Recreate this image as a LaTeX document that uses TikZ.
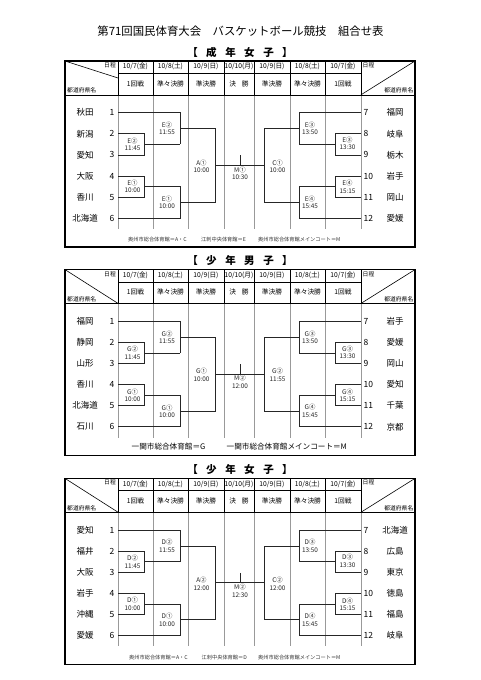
\documentclass[tikz,border=0pt]{standalone}
\usepackage{fontspec}
\setmainfont{Noto Sans CJK JP}
\tikzset{
  x=1pt, y=-1pt,
  outer/.style={line width=1.6pt, black},
  hdr/.style={line width=0.6pt, black},
  gridbody/.style={line width=0.5pt, black!40},
  br/.style={line width=0.8pt, black!85},
  lbl/.style={font=\fontsize{6.4}{7.4}\selectfont, align=center, inner sep=0pt, text=black!85},
  team/.style={font=\fontsize{8.5}{10}\selectfont, inner sep=0pt},
  hd/.style={font=\fontsize{6.7}{7}\selectfont, inner sep=0pt},
  corner/.style={font=\fontsize{5.8}{6}\selectfont, inner sep=0pt},
  foot/.style={font=\fontsize{5.2}{6}\selectfont, inner sep=0pt, anchor=west, text=black!80},
  footbig/.style={font=\fontsize{7.6}{8}\selectfont, inner sep=0pt, anchor=west},
  sub/.style={font=\fontsize{10.5}{12}\selectfont\bfseries, inner sep=0pt},
}
% #1 top y, #2 prefix, #3 end y of left diagonal
\newcommand{\drawtbl}[3]{%
\begin{scope}[shift={(0,#1)}]
  \foreach \x in {118,153,188,224,254,290,325,361} {
    \draw[gridbody] (\x,33.8) -- (\x,168);
    \draw[hdr] (\x,0) -- (\x,33.8);
  }
  \draw[hdr] (118,12.3) -- (361,12.3);
  \draw[hdr] (65,33.8) -- (415,33.8);
  \draw[hdr] (65,0) -- (118,#3);
  \draw[hdr] (415,0) -- (361,33.8);
  \draw[outer] (65,0) rectangle (415,186);
  \node[corner,anchor=north east] (#2dl) at (116,1.6) {日程};
  \node[corner,anchor=south west] (#2pl) at (67,32.5) {都道府県名};
  \node[corner,anchor=north west] (#2dr) at (362.5,1.6) {日程};
  \node[corner,anchor=south east] (#2pr) at (413.5,32.5) {都道府県名};
  \foreach \cx/\dt/\rd [count=\n] in {135.5/{10/7(金)}/1回戦, 170.5/{10/8(土)}/準々決勝, 206/{10/9(日)}/準決勝, 239/{10/10(月)}/{決\hspace{6pt}勝}, 272/{10/9(日)}/準決勝, 307.5/{10/8(土)}/準々決勝, 343/{10/7(金)}/1回戦} {
    \node[hd] (#2date\n) at (\cx,5.6) {\dt};
    \node[hd] (#2rnd\n) at (\cx,22.5) {\rd};
  }
  % left bracket
  \draw[br] (118,51.7) -- (180,51.7) -- (180,83.35);
  \draw[br] (118,72.8) -- (144,72.8) -- (144,93.9) -- (118,93.9);
  \draw[br] (144,83.35) -- (180,83.35);
  \draw[br] (180,67.525) -- (215,67.525) -- (215,141.375) -- (180,141.375);
  \draw[br] (118,115) -- (144,115) -- (144,136.1) -- (118,136.1);
  \draw[br] (144,125.55) -- (180,125.55) -- (180,157.2) -- (118,157.2);
  % final
  \draw[br] (215,104.45) -- (264,104.45);
  \draw[br] (240,94.45) -- (240,104.45);
  % right bracket
  \draw[br] (361,51.7) -- (299,51.7) -- (299,83.35);
  \draw[br] (361,72.8) -- (335,72.8) -- (335,93.9) -- (361,93.9);
  \draw[br] (335,83.35) -- (299,83.35);
  \draw[br] (299,67.525) -- (264,67.525) -- (264,141.375) -- (299,141.375);
  \draw[br] (361,115) -- (335,115) -- (335,136.1) -- (361,136.1);
  \draw[br] (335,125.55) -- (299,125.55) -- (299,157.2) -- (361,157.2);
\end{scope}}
% #1 top, #2 prefix, #3 left teams, #4 right teams
\newcommand{\teams}[4]{%
\begin{scope}[shift={(0,#1)}]
  \foreach \nm [count=\i] in {#3} {
    \pgfmathsetmacro\yy{51.7+21.1*(\i-1)}
    \node[team] (#2l\i) at (85,\yy) {\nm};
    \node[team,anchor=east] (#2ln\i) at (114.5,\yy) {\i};
  }
  \foreach \nm [count=\i] in {#4} {
    \pgfmathsetmacro\yy{51.7+21.1*(\i-1)}
    \pgfmathtruncatemacro\num{\i+6}
    \node[team] (#2r\i) at (395,\yy) {\nm};
    \node[team,anchor=west] (#2rn\i) at (363.5,\yy) {\num};
  }
\end{scope}}
% #1 top, #2 prefix, #3 list of 11 label texts
\newcommand{\labels}[3]{%
\begin{scope}[shift={(0,#1)}]
  \foreach \txt [count=\n] in {#3} {
    \ifcase\n\or
      \def\px{167}\def\py{67.5}\or
      \def\px{132.5}\def\py{83.35}\or
      \def\px{132.5}\def\py{125.55}\or
      \def\px{167}\def\py{141.6}\or
      \def\px{201.5}\def\py{105.3}\or
      \def\px{240}\def\py{112.3}\or
      \def\px{277.5}\def\py{105.3}\or
      \def\px{310}\def\py{67.5}\or
      \def\px{347.5}\def\py{82.5}\or
      \def\px{347.5}\def\py{125.8}\or
      \def\px{310}\def\py{141.4}\fi
    \node[lbl] (#2lab\n) at (\px,\py) {\txt};
  }
\end{scope}}
\begin{document}
\begin{tikzpicture}
\useasboundingbox (0,0) rectangle (481,680);
\fill[white] (0,0) rectangle (481,680);
\node[font=\fontsize{11.4}{13}\selectfont, inner sep=0pt] (title) at (240.5,31) {第71回国民体育大会　バスケットボール競技　組合せ表};

% ---------- Table 1 ----------
\node[sub] (sub1) at (240,52) {【\hspace{8.5pt}成\hspace{8.5pt}年\hspace{8.5pt}女\hspace{8.5pt}子\hspace{8.5pt}】};
\drawtbl{61}{a}{17}
\teams{61}{a}{秋田,新潟,愛知,大阪,香川,北海道}{福岡,岐阜,栃木,岩手,岡山,愛媛}
\labels{61}{a}{{E②\\11:55},{E②\\11:45},{E①\\10:00},{E①\\10:00},{A①\\10:00},{M①\\10:30},{C①\\10:00},{E③\\13:50},{E③\\13:30},{E④\\15:15},{E④\\15:45}}
\node[foot] (af1) at (128,239.5) {奥州市総合体育館＝A・C};
\node[foot] (af2) at (201,239.5) {江刺中央体育館＝E};
\node[foot] (af3) at (258,239.5) {奥州市総合体育館メインコート＝M};

% ---------- Table 2 ----------
\node[sub] (sub2) at (240,260.5) {【\hspace{8.5pt}少\hspace{8.5pt}年\hspace{8.5pt}男\hspace{8.5pt}子\hspace{8.5pt}】};
\drawtbl{269.6}{b}{33.8}
\teams{269.6}{b}{福岡,静岡,山形,香川,北海道,石川}{岩手,愛媛,岡山,愛知,千葉,京都}
\labels{269.6}{b}{{G②\\11:55},{G②\\11:45},{G①\\10:00},{G①\\10:00},{G①\\10:00},{M②\\12:00},{G②\\11:55},{G③\\13:50},{G③\\13:30},{G④\\15:15},{G④\\15:45}}
\node[footbig] (bf1) at (131.5,447) {一関市総合体育館＝G};
\node[footbig] (bf2) at (226.5,447) {一関市総合体育館メインコート＝M};

% ---------- Table 3 ----------
\node[sub] (sub3) at (240,469.5) {【\hspace{8.5pt}少\hspace{8.5pt}年\hspace{8.5pt}女\hspace{8.5pt}子\hspace{8.5pt}】};
\drawtbl{478.4}{c}{33.8}
\teams{478.4}{c}{愛知,福井,大阪,岩手,沖縄,愛媛}{北海道,広島,東京,徳島,福島,岐阜}
\labels{478.4}{c}{{D②\\11:55},{D②\\11:45},{D①\\10:00},{D①\\10:00},{A②\\12:00},{M②\\12:30},{C②\\12:00},{D③\\13:50},{D③\\13:30},{D④\\15:15},{D④\\15:45}}
\node[foot] (cf1) at (129,657.5) {奥州市総合体育館＝A・C};
\node[foot] (cf2) at (201.5,657.5) {江刺中央体育館＝D};
\node[foot] (cf3) at (258,657.5) {奥州市総合体育館メインコート＝M};
\end{tikzpicture}
\end{document}
